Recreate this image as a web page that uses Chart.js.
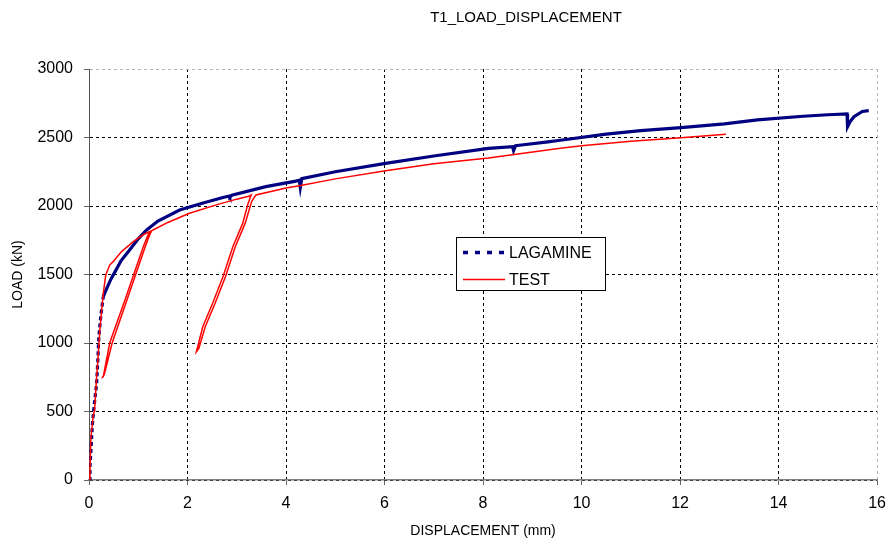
<!DOCTYPE html>
<html>
<head>
<meta charset="utf-8">
<title>T1_LOAD_DISPLACEMENT</title>
<script src="https://cdn.jsdelivr.net/npm/chart.js@4/dist/chart.umd.min.js"></script>
<style>
  html, body { margin: 0; padding: 0; background: #ffffff; }
  #wrap { width: 895px; height: 544px; }
</style>
</head>
<body>
<div id="wrap"><canvas id="chart" width="895" height="544"></canvas></div>
<script>
// Numerical model (LAGAMINE): displacement (mm) and load (kN)
const lagamineDisp = [0, 0.02, 0.04, 0.07, 0.11, 0.155, 0.18, 0.2, 0.24, 0.29, 0.36, 0.45, 0.53, 0.65, 0.8, 1.0, 1.17, 1.4, 1.84, 2.3, 2.7, 2.85, 2.86, 2.9, 3.59, 4.2, 4.27, 4.29, 4.32, 5.0, 6.02, 7.0, 8.11, 8.6, 8.62, 8.66, 8.78, 9.32, 9.53, 10.5, 11.2, 12.02, 12.9, 13.57, 14.5, 15.0, 15.39, 15.4, 15.45, 15.53, 15.7, 15.83];
const lagamineLoad = [0, 100, 219, 414, 560, 705, 880, 1046, 1200, 1338, 1399, 1470, 1521, 1600, 1667, 1760, 1825, 1890, 1971, 2020, 2060, 2073, 2066, 2078, 2141, 2182, 2188, 2135, 2200, 2250, 2311, 2365, 2421, 2433, 2404, 2440, 2445, 2468, 2478, 2525, 2550, 2572, 2600, 2628, 2655, 2666, 2672, 2579, 2615, 2652, 2690, 2696];

// Laboratory test (TEST) with two unloading / reloading cycles
const testDisp = [0, 0.02, 0.04, 0.09, 0.11, 0.155, 0.18, 0.22, 0.29, 0.34, 0.42, 0.49, 0.66, 0.9, 1.1, 1.23,
  1.17, 1.1, 0.73, 0.42, 0.29, 0.28,
  0.31, 0.47, 0.77, 1.14, 1.22, 1.27, 1.3, 1.6, 2.04, 2.6, 3.0, 3.26, 3.29,
  3.22, 3.12, 2.92, 2.72, 2.51, 2.31, 2.18,
  2.23, 2.36, 2.56, 2.77, 2.97, 3.17, 3.3, 3.33, 3.39, 4.0, 4.27, 5.0, 6.02, 7.0, 8.11, 9.53, 10.0, 11.0, 12.02, 12.93];
const testLoad = [0, 73, 316, 480, 499, 754, 876, 1095, 1363, 1496, 1569, 1594, 1667, 1740, 1790, 1813,
  1764, 1700, 1314, 1000, 754, 752,
  770, 1000, 1314, 1700, 1780, 1818, 1825, 1880, 1947, 2010, 2050, 2073, 2080,
  2007, 1873, 1703, 1484, 1290, 1119, 936,
  960, 1119, 1290, 1484, 1703, 1873, 2030, 2050, 2080, 2131, 2148, 2198, 2258, 2308, 2350, 2419, 2440, 2472, 2499, 2523];

// Axis ranges and tick steps
const xTicks = { min: 0, max: 16, step: 2 };
const yTicks = { min: 0, max: 3000, step: 500 };

const seriesNames = ['LAGAMINE', 'TEST'];
const seriesColors = ['#000080', '#ff0000'];

const toPoints = (xs, ys) => xs.map((x, i) => ({ x: x, y: ys[i] }));

const FONT = '"Liberation Sans", Arial, Helvetica, sans-serif';

// Chart heading and legend box, drawn on top of the plot
const decorations = {
  id: 'decorations',
  afterDraw(chart) {
    const ctx = chart.ctx;
    ctx.save();
    ctx.fillStyle = '#000';
    ctx.font = '15px ' + FONT;
    ctx.textAlign = 'center';
    ctx.textBaseline = 'middle';
    ctx.fillText('T1_LOAD_DISPLACEMENT', 526, 18);

    // legend
    const bx = 456.5, by = 237.5, bw = 149, bh = 53;
    ctx.fillStyle = '#ffffff';
    ctx.fillRect(bx, by, bw, bh);
    ctx.strokeStyle = '#000';
    ctx.lineWidth = 1;
    ctx.strokeRect(bx, by, bw, bh);

    const rows = [252.5, 279.5];
    chart.data.datasets.forEach((ds, i) => {
      const y = rows[i];
      ctx.beginPath();
      ctx.strokeStyle = ds.borderColor;
      if (i === 0) {
        ctx.lineWidth = 3.5;
        ctx.setLineDash([5, 7]);
      } else {
        ctx.lineWidth = 1.5;
        ctx.setLineDash([]);
      }
      ctx.moveTo(463, y);
      ctx.lineTo(505, y);
      ctx.stroke();
      ctx.setLineDash([]);
      ctx.fillStyle = '#000';
      ctx.font = '16px ' + FONT;
      ctx.textAlign = 'left';
      ctx.textBaseline = 'middle';
      ctx.fillText(ds.label, 509, y + 1);
    });
    ctx.restore();
  }
};

const gridColor = (edgeValue) => (c) => (c.tick && c.tick.value === edgeValue ? '#b4b4b4' : '#000000');
const plainNumber = (v) => String(v);

new Chart(document.getElementById('chart'), {
  type: 'scatter',
  data: {
    datasets: [
      {
        label: seriesNames[0],
        data: toPoints(lagamineDisp, lagamineLoad),
        showLine: true,
        borderColor: seriesColors[0],
        backgroundColor: seriesColors[0],
        borderWidth: 3.2,
        pointRadius: 0,
        tension: 0,
        order: 2,
        segment: {
          borderDash: (s) => (s.p1.parsed.y < 1340 ? [4, 3] : undefined)
        }
      },
      {
        label: seriesNames[1],
        data: toPoints(testDisp, testLoad),
        showLine: true,
        borderColor: seriesColors[1],
        backgroundColor: seriesColors[1],
        borderWidth: 1.5,
        pointRadius: 0,
        tension: 0,
        order: 1
      }
    ]
  },
  options: {
    responsive: false,
    animation: false,
    layout: { padding: { left: 0, right: 15, top: 69, bottom: 0 } },
    plugins: {
      legend: { display: false },
      tooltip: { enabled: false },
      title: { display: false }
    },
    scales: {
      x: {
        type: 'linear',
        min: xTicks.min,
        max: xTicks.max,
        afterFit: (s) => { s.height = 64; },
        ticks: {
          stepSize: xTicks.step,
          color: '#000',
          padding: 9,
          font: { family: FONT, size: 16 },
          maxRotation: 0,
          callback: plainNumber
        },
        grid: {
          color: gridColor(xTicks.max),
          tickColor: '#666',
          tickBorderDash: [],
          tickLength: 5,
          lineWidth: 1
        },
        border: { display: true, color: '#808080', width: 1.5, dash: [3, 3] },
        title: {
          display: true,
          text: 'DISPLACEMENT (mm)',
          color: '#000',
          font: { family: FONT, size: 14 },
          padding: { top: 0, bottom: 4 }
        }
      },
      y: {
        type: 'linear',
        min: yTicks.min,
        max: yTicks.max,
        afterFit: (s) => { s.width = 89; },
        ticks: {
          stepSize: yTicks.step,
          color: '#000',
          padding: 11,
          font: { family: FONT, size: 16 },
          callback: plainNumber
        },
        grid: {
          color: gridColor(yTicks.max),
          tickColor: '#666',
          tickBorderDash: [],
          tickLength: 5,
          lineWidth: 1
        },
        border: { display: true, color: '#555', width: 1, dash: [3, 3] },
        title: {
          display: true,
          text: 'LOAD (kN)',
          color: '#000',
          font: { family: FONT, size: 14 },
          padding: { top: 10, bottom: 0 }
        }
      }
    }
  },
  plugins: [decorations]
});
</script>
</body>
</html>
